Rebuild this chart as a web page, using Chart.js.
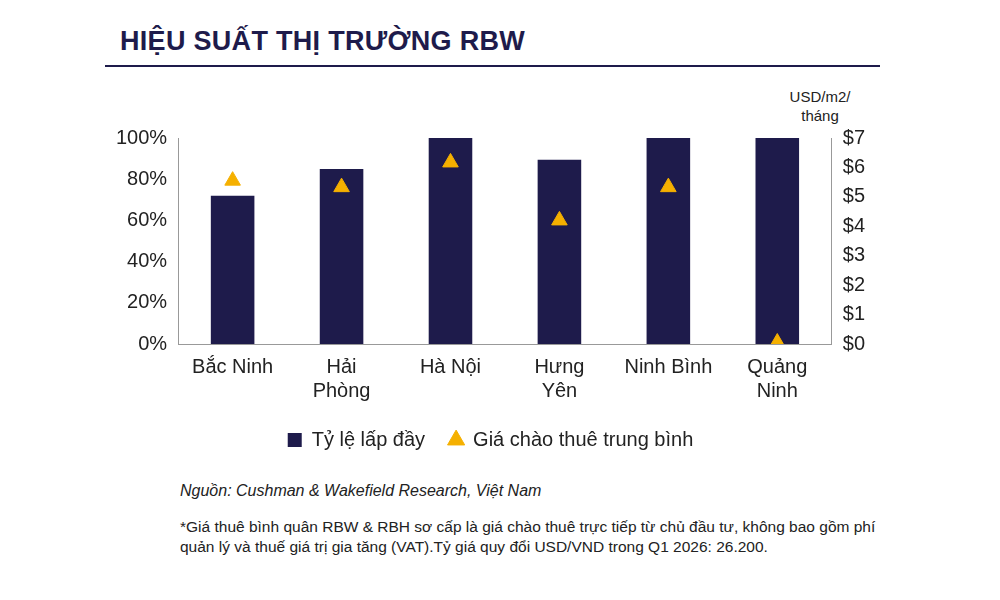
<!DOCTYPE html>
<html><head><meta charset="utf-8">
<script src="https://cdn.jsdelivr.net/npm/chart.js@4"></script>
<style>
body{margin:0;width:1000px;height:600px;background:#fff;font-family:"Liberation Sans",Arial,sans-serif;position:relative;overflow:hidden}
#title{position:absolute;left:120px;top:26px;font-size:27px;font-weight:bold;color:#1e1b4b;letter-spacing:0.3px}
#rule{position:absolute;left:105px;top:65px;width:775px;height:2px;background:#1e1b4b}
#unit{position:absolute;left:780px;top:87px;width:80px;text-align:center;font-size:15px;color:#222;line-height:19px}
#wrap{position:absolute;left:100px;top:80px;width:780px;height:380px}
#src{position:absolute;left:180px;top:482px;font-size:16px;font-style:italic;color:#222}
#note{position:absolute;left:180px;top:517px;width:712px;font-size:15.5px;color:#222;line-height:20px}
</style></head><body>
<div id="title">HIỆU SUẤT THỊ TRƯỜNG RBW</div>
<div id="rule"></div>
<div id="unit">USD/m2/<br>tháng</div>
<div id="wrap"><canvas id="c"></canvas></div>
<div id="src">Nguồn: Cushman &amp; Wakefield Research, Việt Nam</div>
<div id="note">*Giá thuê bình quân RBW &amp; RBH sơ cấp là giá chào thuê trực tiếp từ chủ đầu tư, không bao gồm phí quản lý và thuế giá trị gia tăng (VAT).Tỷ giá quy đổi USD/VND trong Q1 2026: 26.200.</div>
<script>
const categories=[["Bắc Ninh"],["Hải","Phòng"],["Hà Nội"],["Hưng","Yên"],["Ninh Bình"],["Quảng","Ninh"]];
const occupancy=[72,85,100,89.5,100,100];
const rent=[5.55,5.33,6.17,4.2,5.33,0.05];
const leftTicks=[0,20,40,60,80,100];
const rightTicks=[0,1,2,3,4,5,6,7];
Chart.defaults.font.family='"Liberation Sans",Arial,sans-serif';
Chart.defaults.color='#222';
new Chart(document.getElementById('c'),{
data:{labels:categories,datasets:[
{type:'scatter',label:'Giá chào thuê trung bình',data:rent,yAxisID:'y2',pointStyle:'triangle',pointRadius:9,pointHoverRadius:9,backgroundColor:'#f5b000',borderColor:'#f5b000',order:0},
{type:'bar',label:'Tỷ lệ lấp đầy',data:occupancy,yAxisID:'y',backgroundColor:'#1e1b4b',barPercentage:0.4,categoryPercentage:1,order:1,pointStyle:'rect'}
]},
options:{responsive:true,maintainAspectRatio:false,animation:false,
layout:{padding:{top:58,left:13,right:12}},
plugins:{tooltip:{enabled:false},legend:{position:'bottom',reverse:true,labels:{usePointStyle:true,boxWidth:14,boxHeight:14,padding:24,font:{size:20},color:'#222'}}},
scales:{
x:{type:'category',grid:{display:false},border:{color:'#999'},ticks:{font:{size:20},color:'#222',maxRotation:0}},
y:{position:'left',min:0,max:100,afterBuildTicks:a=>{a.ticks=leftTicks.map(v=>({value:v}))},grid:{display:false},border:{color:'#999'},ticks:{font:{size:20},color:'#222',callback:v=>v+'%'}},
y2:{position:'right',min:0,max:7,afterBuildTicks:a=>{a.ticks=rightTicks.map(v=>({value:v}))},grid:{display:false},border:{color:'#999'},ticks:{autoSkip:false,font:{size:20},color:'#222',callback:v=>'$'+v}}
}}});
</script></body></html>
